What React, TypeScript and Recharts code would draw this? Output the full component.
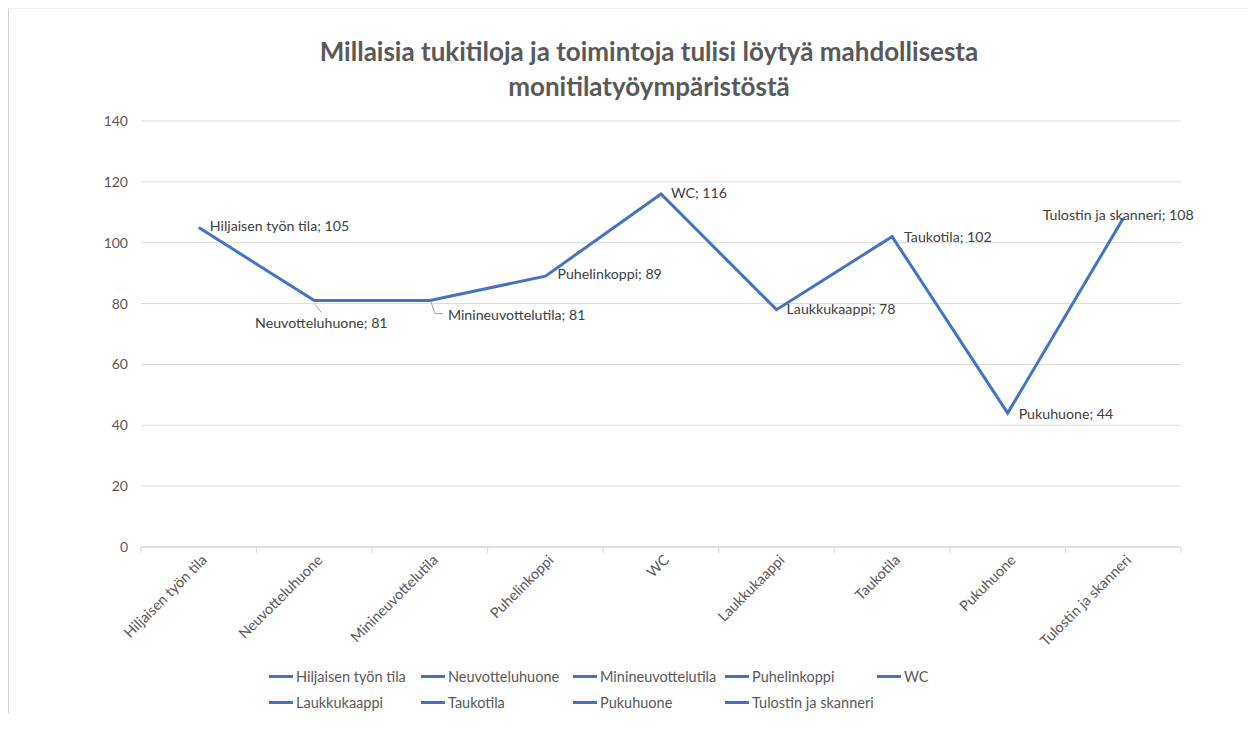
import React from "react";
import {
  ComposedChart,
  Line,
  XAxis,
  YAxis,
  CartesianGrid,
  LabelList,
} from "recharts";

const categories = [
  "Hiljaisen työn tila",
  "Neuvotteluhuone",
  "Minineuvottelutila",
  "Puhelinkoppi",
  "WC",
  "Laukkukaappi",
  "Taukotila",
  "Pukuhuone",
  "Tulostin ja skanneri",
];
const values = [105, 81, 81, 89, 116, 78, 102, 44, 108];
const yTicks = [0, 20, 40, 60, 80, 100, 120, 140];
const titleLines = [
  "Millaisia tukitiloja ja toimintoja tulisi löytyä mahdollisesta",
  "monitilatyöympäristöstä",
];

const FONT = "Lato, 'Open Sans', sans-serif";
const BLUE = "#4472C4";
const W = 1240;
const H = 705;
const MARGIN = { top: 112, right: 68, bottom: 57, left: 0 };
const Y_W = 132;
const PLOT_W = W - MARGIN.left - MARGIN.right - Y_W;

// label placement relative to each point (Excel put some below / left)
const labelPos = [
  { dx: 11, dy: -2.5, anchor: "start" },
  { dx: 7, dy: 21.5, anchor: "middle", leader: "M1 4 L7 12" },
  { dx: 18, dy: 13.5, anchor: "start", leader: "M1 1 L5 13 L13 13" },
  { dx: 12, dy: -3, anchor: "start" },
  { dx: 10, dy: -2, anchor: "start" },
  { dx: 10, dy: -1.5, anchor: "start" },
  { dx: 12, dy: 0, anchor: "start" },
  { dx: 11, dy: 0, anchor: "start" },
  { dx: -5, dy: -3.5, anchor: "middle" },
];

const data = categories.map((c, i) => ({ name: c, value: values[i] }));

const XTick = ({ x, y, payload, index }: any) => {
  const step = PLOT_W / categories.length;
  return (
    <g>
      <line x1={x - step / 2} x2={x - step / 2} y1={y} y2={y + 6} stroke="#d9d9d9" />
      {index === categories.length - 1 && (
        <line x1={x + step / 2} x2={x + step / 2} y1={y} y2={y + 6} stroke="#d9d9d9" />
      )}
      <text
        transform={`translate(${x + 9},${y + 14}) rotate(-45)`}
        textAnchor="end"
        fontSize={14.5}
        fill="#595959"
        fontFamily={FONT}
      >
        {payload.value}
      </text>
    </g>
  );
};

const PointLabel = (props: any) => {
  const { x, y, index, value } = props;
  const p = labelPos[index];
  return (
    <g>
      {p.leader && (
        <path
          d={p.leader}
          transform={`translate(${x},${y})`}
          fill="none"
          stroke="#a6a6a6"
          strokeWidth={1}
        />
      )}
      <text
        x={x + p.dx}
        y={y + p.dy}
        textAnchor={p.anchor}
        dominantBaseline="central"
        fontSize={14.2}
        fill="#404040"
        fontFamily={FONT}
      >
        {`${categories[index]}; ${value}`}
      </text>
    </g>
  );
};

export default function App() {
  return (
    <div
      style={{
        position: "relative",
        width: W,
        height: H,
        borderLeft: "2px solid #d4d4d4",
        borderTop: "1px solid #f0f0f0",
        marginLeft: -1,
        fontFamily: FONT,
      }}
    >
      <div
        style={{
          position: "absolute",
          top: 25,
          left: 0,
          width: 1280,
          textAlign: "center",
          fontSize: 26,
          fontWeight: 700,
          color: "#595959",
          lineHeight: "35px",
        }}
      >
        {titleLines.map((t) => (
          <div key={t}>{t}</div>
        ))}
      </div>
      <ComposedChart width={W} height={H} data={data} margin={MARGIN}>
        <CartesianGrid vertical={false} stroke="#d9d9d9" />
        <XAxis
          dataKey="name"
          scale="band"
          interval={0}
          height={110}
          tickLine={false}
          tickSize={0}
          tickMargin={0}
          axisLine={{ stroke: "#d9d9d9" }}
          tick={<XTick />}
        />
        <YAxis
          domain={[0, 140]}
          ticks={yTicks}
          width={Y_W}
          axisLine={false}
          tickLine={false}
          tickSize={8}
          tickMargin={5}
          tick={{ fontSize: 14, fill: "#595959", fontFamily: FONT }}
        />
        <Line
          dataKey="value"
          stroke={BLUE}
          strokeWidth={3}
          dot={false}
          activeDot={false}
          isAnimationActive={false}
        >
          <LabelList dataKey="value" content={<PointLabel />} />
        </Line>
      </ComposedChart>
      <div
        style={{
          position: "absolute",
          top: 658,
          left: 260,
          display: "grid",
          gridTemplateColumns: "repeat(5, 152px)",
          rowGap: 8,
          fontSize: 14.5,
          color: "#595959",
        }}
      >
        {categories.map((c) => (
          <div key={c} style={{ display: "flex", alignItems: "center", height: 18 }}>
            <span
              style={{
                display: "inline-block",
                width: 24,
                height: 3,
                background: BLUE,
                marginRight: 3,
              }}
            />
            {c}
          </div>
        ))}
      </div>
    </div>
  );
}
